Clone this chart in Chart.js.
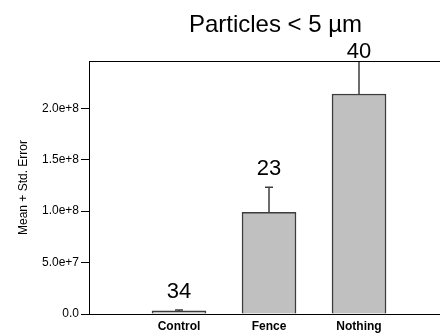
<!DOCTYPE html>
<html>
<head>
<meta charset="utf-8">
<script src="https://cdn.jsdelivr.net/npm/chart.js@4.4.1/dist/chart.umd.min.js"></script>
<style>
    html, body { margin: 0; padding: 0; background: #fff; overflow: hidden; }
    #wrap { width: 462px; height: 333px; }
</style>
</head>
<body>
<div id="wrap"><canvas id="chart" width="462" height="333"></canvas></div>
<script>
var categories = ['Control', 'Fence', 'Nothing'];
var means = [3.0e6, 9.88e7, 2.139e8];
var stdErrors = [1.0e6, 2.44e7, 3.3e7];
var sampleSizes = ['34', '23', '40'];
var yTicks = [0, 5e7, 1e8, 1.5e8, 2e8];
var yMax = 2.46e8;
var xMax = 4.144;
var titleText = 'Particles < 5 \u00b5m';
var yTitle = 'Mean + Std. Error';

var FONT = '"Liberation Sans", Arial, sans-serif';

var ParticlesChart = {

    /**
     * init
     * @return {void}
     **/
    init: function () {
        var ctx = document.getElementById('chart').getContext('2d');
        this.chart = new Chart(ctx, this.config());
    },

    /**
     * points - bar values paired with their slot on the x axis
     * @return {Array}
     **/
    points: function () {
        return means.map(function (m, i) {
            return { x: i + 1, y: m };
        });
    },

    /**
     * overlay - error bars, frame top, sample sizes and title
     * @return {Object}
     **/
    overlay: function () {
        return {
            id: 'overlay',
            afterDatasetsDraw: function (chart) {
                var c = chart.ctx, xs = chart.scales.x, ys = chart.scales.y, area = chart.chartArea;

                c.save();
                c.beginPath();
                c.rect(area.left, area.top, area.right - area.left, area.bottom - area.top);
                c.clip();
                c.strokeStyle = '#3c3c3c';
                c.lineWidth = 1.5;

                means.forEach(function (m, i) {
                    var px = Math.round(xs.getPixelForValue(i + 1)),
                        top = m + stdErrors[i],
                        y0 = ys.getPixelForValue(m),
                        y1 = ys.getPixelForValue(Math.min(top, yMax));

                    c.beginPath();
                    c.moveTo(px, y0);
                    c.lineTo(px, y1);
                    //cap only when the whisker ends inside the frame
                    if (top < yMax) {
                        c.moveTo(px - 4, y1);
                        c.lineTo(px + 4, y1);
                    }
                    c.stroke();
                });
                c.restore();
            },
            afterDraw: function (chart) {
                var c = chart.ctx, xs = chart.scales.x, ys = chart.scales.y, area = chart.chartArea;

                c.save();
                c.strokeStyle = '#000';
                c.lineWidth = 1;
                c.beginPath();
                c.moveTo(area.left, area.top + 0.5);
                c.lineTo(area.right, area.top + 0.5);
                c.stroke();

                c.fillStyle = '#000';
                c.textAlign = 'center';
                c.textBaseline = 'alphabetic';
                c.font = '22px ' + FONT;

                sampleSizes.forEach(function (n, i) {
                    var top = means[i] + stdErrors[i],
                        py = top < yMax ? ys.getPixelForValue(top) - 12 : area.top - 3;
                    c.fillText(n, xs.getPixelForValue(i + 1), py);
                });

                c.font = '24px ' + FONT;
                c.fillText(titleText, (area.left + area.right) / 2, 32);
                c.restore();
            }
        };
    },

    /**
     * config
     * @return {Object}
     **/
    config: function () {
        return {
            type: 'bar',
            data: {
                datasets: [{
                    data: this.points(),
                    backgroundColor: '#c0c0c0',
                    borderColor: '#3c3c3c',
                    borderWidth: 1.5,
                    borderSkipped: 'bottom',
                    barThickness: 54
                }]
            },
            options: {
                responsive: false,
                animation: false,
                layout: { padding: { top: 61, left: 0, right: 0, bottom: 0 } },
                plugins: {
                    legend: { display: false },
                    tooltip: { enabled: false }
                },
                scales: {
                    x: {
                        type: 'linear',
                        min: 0,
                        max: xMax,
                        offset: false,
                        grid: { display: false, drawTicks: false, offset: false },
                        border: { display: true, color: '#000', width: 1 },
                        afterBuildTicks: function (scale) {
                            scale.ticks = categories.map(function (c, i) {
                                return { value: i + 1 };
                            });
                        },
                        ticks: {
                            autoSkip: false,
                            maxRotation: 0,
                            padding: 5,
                            color: '#000',
                            font: { family: FONT, size: 12, weight: 'bold' },
                            callback: function (v) {
                                return categories[v - 1] || '';
                            }
                        },
                        afterFit: function (scale) {
                            scale.height = 19;
                        }
                    },
                    y: {
                        min: 0,
                        max: yMax,
                        afterBuildTicks: function (scale) {
                            scale.ticks = yTicks.map(function (v) {
                                return { value: v };
                            });
                        },
                        grid: { drawOnChartArea: false, drawTicks: true, tickLength: 8, color: '#000' },
                        border: { color: '#000', width: 1 },
                        ticks: {
                            padding: 2,
                            color: '#000',
                            font: { family: FONT, size: 12 },
                            callback: function (v) {
                                return v === 0 ? '0.0' : v.toExponential(1);
                            }
                        },
                        title: {
                            display: true,
                            text: yTitle,
                            color: '#000',
                            font: { family: FONT, size: 12 },
                            padding: { top: 16, bottom: 0 }
                        },
                        afterFit: function (scale) {
                            scale.width = 89;
                        }
                    }
                }
            },
            plugins: [this.overlay()]
        };
    }
};

ParticlesChart.init();
</script>
</body>
</html>
